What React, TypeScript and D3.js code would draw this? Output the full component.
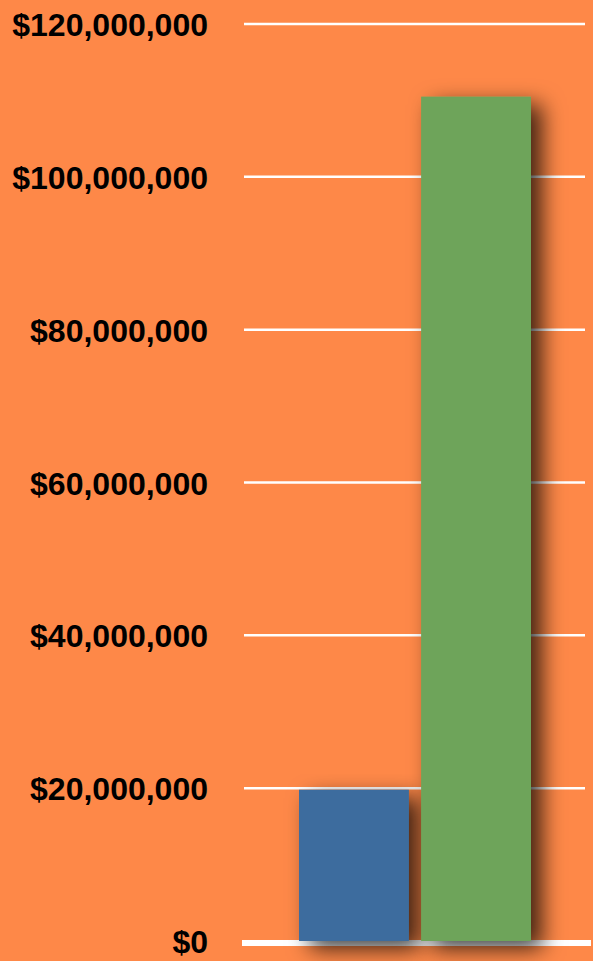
import React from "react";
import * as d3 from "d3";

const categories = ["A", "B"];
const values = [19800000, 110500000];
const barColors = ["#3D6C9E", "#6EA45A"];
const tickValues = [0, 20000000, 40000000, 60000000, 80000000, 100000000, 120000000];

const W = 593;
const H = 961;

export default function App() {
  const y = d3.scaleLinear().domain([0, 120000000]).range([941, 24]);
  const x = d3.scaleBand<string>().domain(categories).range([299, 531]).paddingInner(0.1).paddingOuter(0);
  const fmt = (v: number) => "$" + d3.format(",")(v);

  return (
    <svg
      width={W}
      height={H}
      style={{ position: "absolute", left: 0, top: 0, display: "block" }}
    >
      <defs>
        <filter id="shadow" x="-60%" y="-10%" width="220%" height="130%">
          <feDropShadow dx="11" dy="8" stdDeviation="11" floodColor="#000" floodOpacity="0.75" />
        </filter>
      </defs>
      <rect x={0} y={0} width={W} height={H} fill="#FE8848" />
      {tickValues.filter((t) => t > 0).map((t) => (
        <line key={t} x1={244} x2={585} y1={y(t)} y2={y(t)} stroke="#FFFFFF" strokeWidth={2.5} />
      ))}
      <rect x={242} y={y(0) - 1} width={349} height={6} fill="#FFFFFF" />
      {tickValues.map((t) => (
        <text
          key={"l" + t}
          x={208}
          y={y(t) + 12}
          textAnchor="end"
          fontFamily="'Liberation Sans', Arial, Helvetica, sans-serif"
          fontWeight="bold"
          fontSize={32}
          fill="#000"
        >
          {fmt(t)}
        </text>
      ))}
      {categories.map((c, i) => (
        <rect
          key={c}
          x={x(c)}
          y={y(values[i])}
          width={x.bandwidth()}
          height={y(0) - y(values[i])}
          fill={barColors[i]}
          filter="url(#shadow)"
        />
      ))}
    </svg>
  );
}
